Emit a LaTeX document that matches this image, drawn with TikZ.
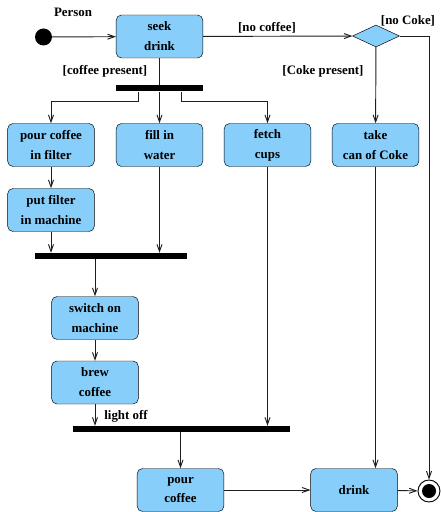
\documentclass[tikz,border=0pt]{standalone}
\usepackage{fontspec}
\setmainfont{Liberation Serif}
\usepackage{tikz}
\usetikzlibrary{arrows.meta,shapes.geometric,calc}
\definecolor{actblue}{RGB}{135,206,250}
\definecolor{lineGray}{RGB}{30,30,30}

\begin{document}
\begin{tikzpicture}[x=0.03cm,y=-0.03cm,>={Straight Barb[length=0.21cm,width=0.15cm]},
  act/.style={draw,rounded corners=0.16cm,fill=actblue,minimum width=2.6cm,minimum height=1.29cm,align=center,inner sep=0pt},
  bar/.style={fill=black,inner sep=0pt,minimum height=0.18cm},
  flow/.style={->,lineGray,line width=0.8pt},
  txt/.style={inner sep=0pt}]
\useasboundingbox (0,0) rectangle (440,512);
\fontsize{11}{17}\selectfont\bfseries
%
\node at (43.5,37) [circle,fill=black,minimum size=0.51cm,inner sep=0pt] (init) {};
\node at (73,12) [txt] (person) {Person};
\node at (159.5,36.5) [act] (seek) {seek\\drink};
\node at (376,36) [diamond,draw,fill=actblue,inner sep=0pt,minimum width=1.41cm,minimum height=0.66cm] (dec) {};
\node at (267,28) [txt] (nocoffee) {[no coffee]};
\node at (408,21) [txt] (nocoke) {[no Coke]};
\node at (105,71) [txt] (coffeep) {[coffee present]};
\node at (323,71) [txt] (cokep) {[Coke present]};
%
\node at (159.5,88.5) [bar,minimum width=2.61cm] (bar1) {};
\node at (51,145) [act] (pcf) {pour coffee\\in filter};
\node at (159.5,145) [act] (fill) {fill in\\water};
\node at (267.5,145) [act] (fetch) {fetch\\cups};
\node at (375.5,145) [act] (coke) {take\\can of Coke};
\node at (51,210) [act] (put) {put filter\\in machine};
%
\node at (111,256) [bar,minimum width=4.56cm] (bar2) {};
\node at (95,318) [act] (switch) {switch on\\machine};
\node at (95,382.5) [act] (brew) {brew\\coffee};
\node at (126,416) [txt] (light) {light off};
\node at (181.5,429) [bar,minimum width=6.51cm] (bar3) {};
\node at (180.5,490) [act] (pour) {pour\\coffee};
\node at (354,490) [act] (drink) {drink};
\node at (429,491) [circle,draw,thick,minimum size=0.66cm,inner sep=0pt] (fin) {};
\fill (fin) circle (0.21cm);
%
\draw [flow] (init) -- (seek);
\draw [flow] (seek) -- (dec);
\draw [lineGray,line width=0.8pt] (seek) -- (bar1);
\draw [flow] ($(bar1.south)+(-21.5,0)$) -- ++(0,10) -| (pcf);
\draw [flow] (bar1) -- (fill);
\draw [flow] ($(bar1.south)+(21.5,0)$) -- ++(0,10) -| (fetch);
\draw [flow] (dec) -- (coke);
\draw [flow] (dec) -| (fin);
\draw [flow] (pcf) -- (put);
\draw [flow] (put) -- (put |- bar2.north);
\draw [flow] (fill) -- (fill |- bar2.north);
\draw [flow] (bar2.south -| switch) -- (switch);
\draw [flow] (switch) -- (brew);
\draw [flow] (brew) -- (brew |- bar3.north);
\draw [flow] (fetch) -- (fetch |- bar3.north);
\draw [flow] (bar3.south -| pour) -- (pour);
\draw [flow] (coke) -- (coke |- drink.north);
\draw [flow] (pour) -- (drink);
\draw [flow] (drink) -- (fin);
\end{tikzpicture}
\end{document}
